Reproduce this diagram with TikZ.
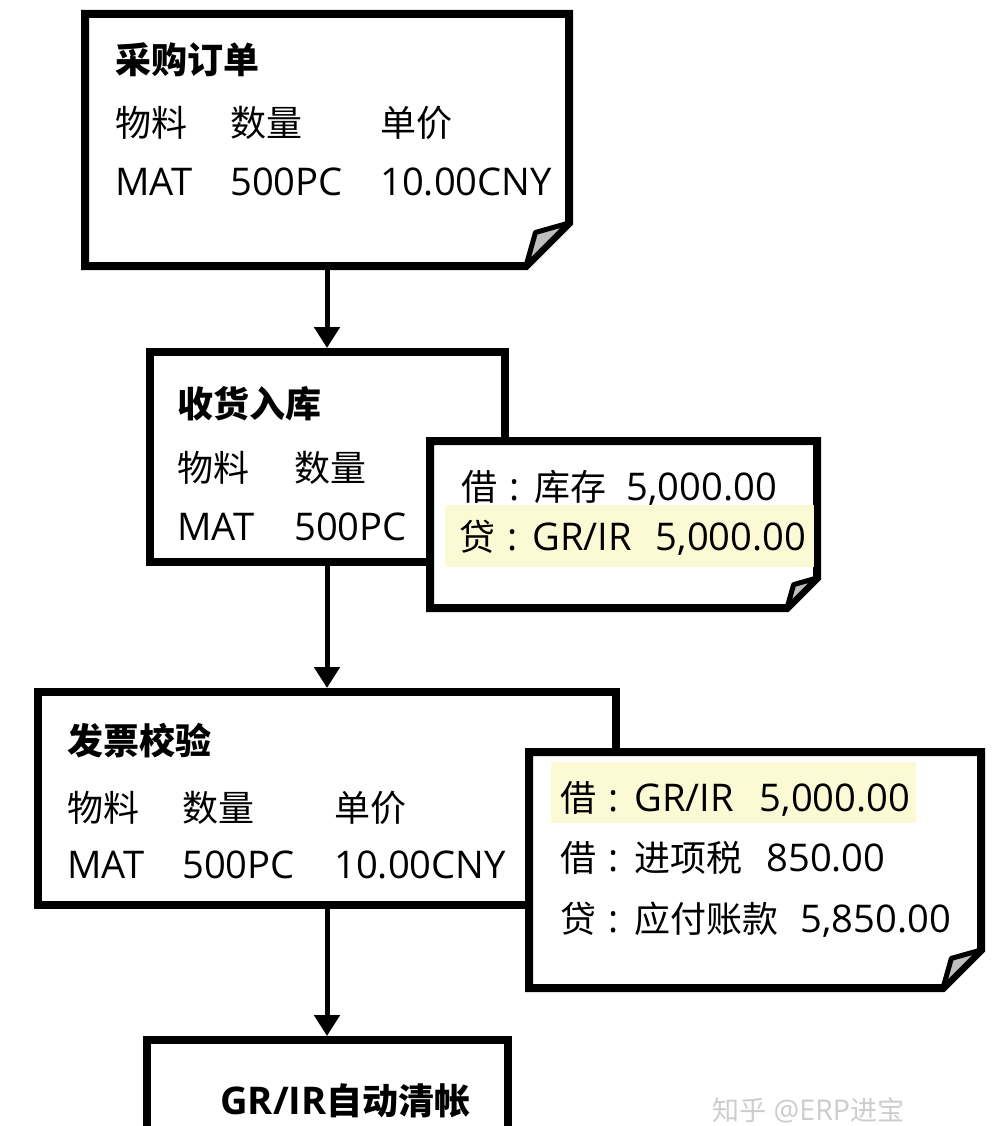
\documentclass[tikz,border=0pt]{standalone}
\usepackage{fontspec}
\setmainfont{Open Sans}[Scale=1.06]
\newfontfamily\cjk{Noto Sans CJK SC}
\usetikzlibrary{arrows.meta}
\definecolor{HL}{RGB}{252,250,212}
\definecolor{FG}{RGB}{190,190,190}
\definecolor{WM}{RGB}{205,205,205}

% chinese text and fixed-width columns
\newcommand{\zh}[1]{{\cjk #1}}
\newcommand{\fcell}[2]{\makebox[#1][l]{#2}}
% document outline with a dog-ear at the lower right
\newcommand{\dogear}[2]{%
  \draw[line width=8pt, fill=white]
    (#1.north west) -- (#1.north east) -- ([yshift=#2]#1.south east)
    -- ([xshift=-#2]#1.south east) -- (#1.south west) -- cycle;
  \draw[line width=5pt, fill=FG, line join=round]
    ([yshift=#2]#1.south east) -- ([xshift=-0.78*#2,yshift=0.78*#2]#1.south east)
    -- ([xshift=-#2]#1.south east) -- cycle;
}

\begin{document}
\begin{tikzpicture}[x=1pt, y=-1pt,
  box/.style={draw, line width=8pt, fill=white, inner sep=0},
  doc/.style={inner sep=0, outer sep=0},
  txt/.style={anchor=base west, inner sep=0, font=\fontsize{36}{43}\selectfont},
  hl/.style={fill=HL, draw=none, inner sep=0},
  wm/.style={anchor=base west, inner sep=0, text=WM, font=\fontsize{27}{32}\selectfont},
  flow/.style={line width=5pt, -{Triangle[width=25pt,length=21pt]}}
]
\clip (0,0) rectangle (1006,1126);
\fill[white] (0,0) rectangle (1006,1126);

% Step 1: purchase order
\node[doc, minimum width=484pt, minimum height=252pt] (po) at (327,140) {};
\dogear{po}{43pt}
\node[txt] (po-t) at (115,74) {\bfseries\zh{采购订单}};
\node[txt] (po-h) at (115,137) {\fcell{115pt}{\zh{物料}}\fcell{150pt}{\zh{数量}}\zh{单价}};
\node[txt] (po-v) at (115,195) {\fcell{115pt}{MAT}\fcell{150pt}{500PC}10.00CNY};

% Step 2: goods receipt
\node[box, minimum width=355pt, minimum height=210pt] (gr) at (327,457) {};
\node[txt] (gr-t) at (177,417) {\bfseries\zh{收货入库}};
\node[txt] (gr-h) at (177,481) {\fcell{117pt}{\zh{物料}}\zh{数量}};
\node[txt] (gr-v) at (177,540) {\fcell{117pt}{MAT}500PC};

\node[doc, minimum width=387pt, minimum height=167pt] (grj) at (623.5,524.5) {};
\dogear{grj}{30pt}
\node[hl, minimum width=369pt, minimum height=62pt] (grj-hl) at (629.5,536) {};
\node[txt] (grj-1) at (461,500) {\zh{借}\hspace{12pt}:\hspace{15pt}\zh{库存}\hspace{20pt}5,000.00};
\node[txt] (grj-2) at (459,550) {\zh{贷}\hspace{12pt}:\hspace{15pt}GR/IR\hspace{24pt}5,000.00};

% Step 3: invoice verification
\node[box, minimum width=578pt, minimum height=213pt] (iv) at (327,798.5) {};
\node[txt] (iv-t) at (67,754) {\bfseries\zh{发票校验}};
\node[txt] (iv-h) at (67,821) {\fcell{115pt}{\zh{物料}}\fcell{152pt}{\zh{数量}}\zh{单价}};
\node[txt] (iv-v) at (67,878) {\fcell{115pt}{MAT}\fcell{152pt}{500PC}10.00CNY};

\node[doc, minimum width=452pt, minimum height=236pt] (ivj) at (755,870) {};
\dogear{ivj}{38pt}
\node[hl, minimum width=365pt, minimum height=61pt] (ivj-hl) at (733.5,792.5) {};
\node[txt] (ivj-1) at (560,811) {\zh{借}\hspace{12pt}:\hspace{16pt}GR/IR\hspace{26pt}5,000.00};
\node[txt] (ivj-2) at (560,871) {\zh{借}\hspace{12pt}:\hspace{16pt}\zh{进项税}\hspace{24pt}850.00};
\node[txt] (ivj-3) at (560,932) {\zh{贷}\hspace{12pt}:\hspace{16pt}\zh{应付账款}\hspace{22pt}5,850.00};

% Step 4: automatic clearing
\node[box, minimum width=361pt, minimum height=130pt] (clr) at (327,1105) {};
\node[txt] (clr-t) at (220,1114) {\bfseries GR/IR\zh{自动清帐}};

\foreach \a/\b in {po/gr, gr/iv, iv/clr} \draw[flow] (\a) -- (\b);

% watermark
\node[wm] (wm) at (712,1120) {\zh{知乎} @ERP\zh{进宝}};
\end{tikzpicture}
\end{document}
